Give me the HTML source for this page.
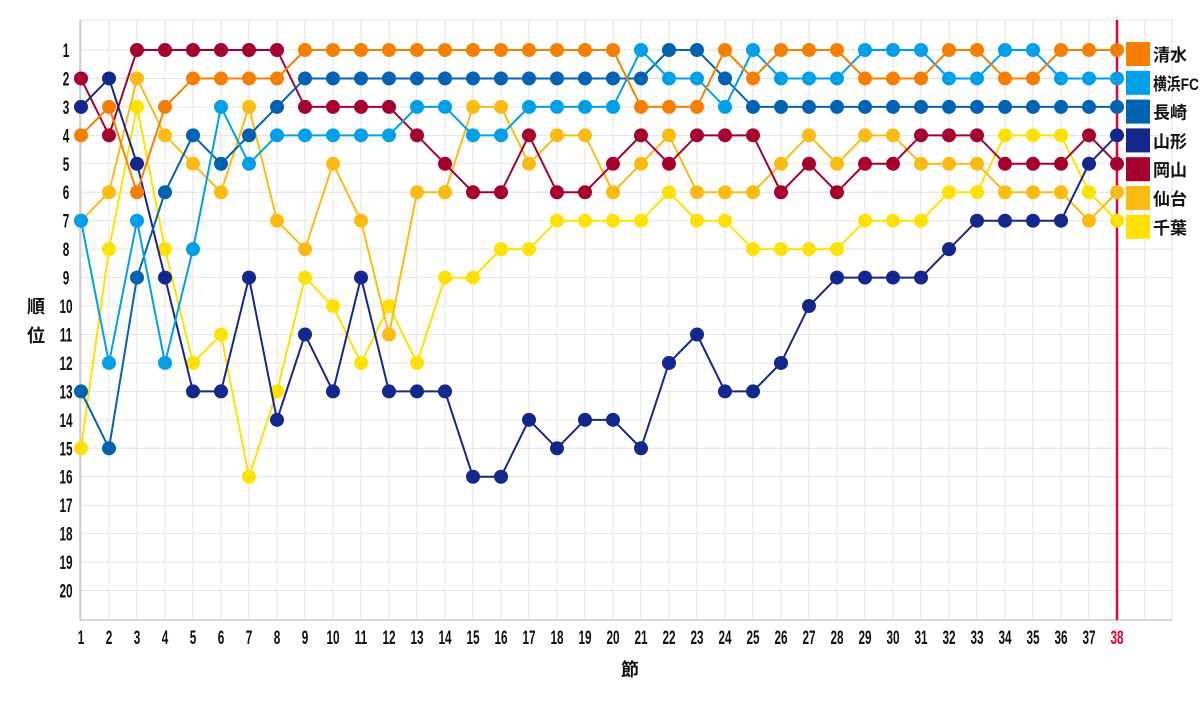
<!DOCTYPE html>
<html><head><meta charset="utf-8">
<style>
html,body{margin:0;padding:0;background:#fff;}
svg text{font-family:"Liberation Sans","Noto Sans CJK JP",sans-serif;}
</style></head>
<body>
<svg id="c" width="1200" height="700" xmlns="http://www.w3.org/2000/svg"></svg>
<script>
const svg=document.getElementById('c');
const X=i=>81+28*(i-1), Y=r=>50+28.45*(r-1);
let s='';
for(let i=1;i<=39;i++){s+=`<line x1="${X(i)}" y1="20" x2="${X(i)}" y2="620" stroke="#e3e3e3" stroke-width="1"/>`;}
for(let r=1;r<=20;r++){s+=`<line x1="80" y1="${Y(r)}" x2="1172" y2="${Y(r)}" stroke="#e3e3e3" stroke-width="1"/>`;}
s+=`<rect x="80" y="20" width="1092" height="600" fill="none" stroke="#e0e0e0"/>`;
s+=`<line x1="80" y1="20" x2="80" y2="620" stroke="#c8c8c8" stroke-width="1.5"/><line x1="80" y1="620" x2="1172" y2="620" stroke="#c8c8c8" stroke-width="1.5"/>`;
const sx=0.62;
for(let r=1;r<=20;r++){s+=`<text x="${66/sx}" y="${Y(r)+7}" text-anchor="middle" font-size="19" font-weight="bold" fill="#111" transform="scale(${sx},1)">${r}</text>`;}
for(let i=1;i<=38;i++){const red=i==38;s+=`<text x="${X(i)/sx}" y="644" text-anchor="middle" font-size="19" font-weight="bold" fill="${red?'#e60033':'#111'}" transform="scale(${sx},1)">${i}</text>`;}
s+=`<text x="36" y="313" text-anchor="middle" font-size="18" font-weight="bold" fill="#111">順</text><text x="36" y="342" text-anchor="middle" font-size="18" font-weight="bold" fill="#111">位</text>`;
s+=`<text x="630" y="676" text-anchor="middle" font-size="18" font-weight="bold" fill="#111">節</text>`;
s+=`<line x1="1117" y1="20" x2="1117" y2="620" stroke="#e60033" stroke-width="2.5"/>`;
const series=[
["千葉","#ffe100",[15,8,3,8,12,11,16,13,9,10,12,10,12,9,9,8,8,7,7,7,7,6,7,7,8,8,8,8,7,7,7,6,6,4,4,4,6,7]],
["仙台","#fbbb12",[7,6,2,4,5,6,3,7,8,5,7,11,6,6,3,3,5,4,4,6,5,4,6,6,6,5,4,5,4,4,5,5,5,6,6,6,7,6]],
["岡山","#a6002f",[2,4,1,1,1,1,1,1,3,3,3,3,4,5,6,6,4,6,6,5,4,5,4,4,4,6,5,6,5,5,4,4,4,5,5,5,4,5]],
["山形","#13278c",[3,2,5,9,13,13,9,14,11,13,9,13,13,13,16,16,14,15,14,14,15,12,11,13,13,12,10,9,9,9,9,8,7,7,7,7,5,4]],
["長崎","#0062b0",[13,15,9,6,4,5,4,3,2,2,2,2,2,2,2,2,2,2,2,2,2,1,1,2,3,3,3,3,3,3,3,3,3,3,3,3,3,3]],
["横浜FC","#00a0e9",[7,12,7,12,8,3,5,4,4,4,4,4,3,3,4,4,3,3,3,3,1,2,2,3,1,2,2,2,1,1,1,2,2,1,1,2,2,2]],
["清水","#f77f00",[4,3,6,3,2,2,2,2,1,1,1,1,1,1,1,1,1,1,1,1,3,3,3,1,2,1,1,1,2,2,2,1,1,2,2,1,1,1]]
];
series.forEach(([n,c,d])=>{
 s+=`<polyline fill="none" stroke="${c}" stroke-width="2" points="${d.map((r,i)=>X(i+1)+','+Y(r)).join(' ')}"/>`;
 d.forEach((r,i)=>{s+=`<circle cx="${X(i+1)}" cy="${Y(r)}" r="7" fill="${c}"/>`;});
});
series.slice().reverse().forEach(([n,c],k)=>{
 const y=42+k*28.8;
 s+=`<rect x="1126" y="${y}" width="24" height="24" fill="${c}"/>`;
 s+=`<text x="1153" y="${y+19}" font-size="17" font-weight="bold" fill="#111" ${n=="横浜FC"?'textLength="46" lengthAdjust="spacingAndGlyphs"':''}>${n}</text>`;
});
svg.innerHTML=s;
</script>
</body></html>
